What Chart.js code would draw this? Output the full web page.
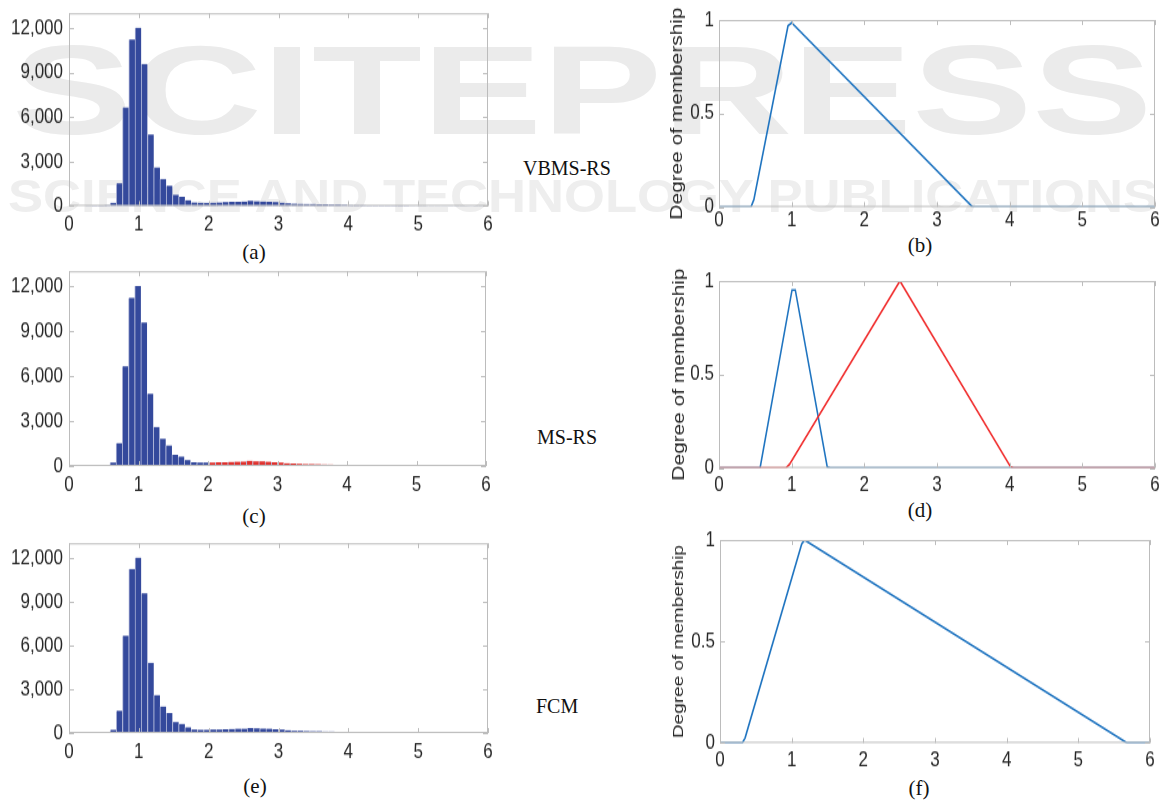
<!DOCTYPE html>
<html>
<head>
<meta charset="utf-8">
<script src="https://cdn.jsdelivr.net/npm/chart.js@4.4.1/dist/chart.umd.min.js"></script>
<style>
  html, body { margin: 0; padding: 0; background: #fff; }
  body { width: 1164px; height: 801px; position: relative; overflow: hidden; }
  .panel { position: absolute; transform-origin: 0 0; }
  .panel canvas { display: block; }
  .wm { position: absolute; white-space: nowrap; font-family: 'Liberation Sans', Arial, sans-serif; font-weight: bold; line-height: 1; transform-origin: 0 0; }
  #wm1 { font-size: 126px; color: #ebebeb; left: 12px; top: 28px; }
  #wm2 { font-size: 47px; color: #eeeeee; left: 8px; top: 172px; }
  .lbl { position: absolute; white-space: nowrap; font-family: 'Liberation Serif', 'Times New Roman', serif; font-size: 20px; line-height: 20px; color: #111; }
  .cap { position: absolute; white-space: nowrap; font-family: 'Liberation Serif', 'Times New Roman', serif; font-size: 21px; line-height: 1; color: #111; transform: translate(-50%, -50%); }
</style>
</head>
<body>
<div class="wm" id="wm1">SCITEPRESS</div>
<div class="wm" id="wm2">SCIENCE AND TECHNOLOGY PUBLICATIONS</div>

<div class="lbl" style="left:523px;top:158px;">VBMS-RS</div>
<div class="lbl" style="left:537px;top:427px;">MS-RS</div>
<div class="lbl" style="left:536px;top:696px;">FCM</div>

<div class="cap" style="left:254px;top:252px;">(a)</div>
<div class="cap" style="left:920px;top:245px;">(b)</div>
<div class="cap" style="left:254px;top:516px;">(c)</div>
<div class="cap" style="left:920px;top:510px;">(d)</div>
<div class="cap" style="left:255px;top:786px;">(e)</div>
<div class="cap" style="left:919px;top:788px;">(f)</div>

<script>
// ── Data ─────────────────────────────────────────────────────────────────────

// histogram bins (centres) and counts, same data in (a), (c) and (e)
const binCenters = [
  0.276, 0.365, 0.454, 0.544, 0.633, 0.722, 0.811, 0.901, 0.990, 1.079,
  1.169, 1.258, 1.347, 1.437, 1.526, 1.615, 1.704, 1.794, 1.883, 1.972,
  2.062, 2.151, 2.240, 2.330, 2.419, 2.508, 2.597, 2.687, 2.776, 2.865,
  2.955, 3.044, 3.133, 3.223, 3.312, 3.401, 3.490, 3.580, 3.669, 3.758,
  3.848, 3.937, 4.026, 4.116, 4.205, 4.294, 4.383, 4.473, 4.562, 4.651,
  4.741, 4.830, 4.919, 5.009, 5.098, 5.187, 5.276, 5.366, 5.455, 5.544,
  5.634, 5.723, 5.812, 5.902
];
const counts = [
  10, 25, 35, 60, 220, 1530, 6650, 11230, 12020, 9580,
  4820, 2600, 1820, 1370, 760, 630, 390, 240, 220, 220,
  230, 240, 260, 280, 290, 300, 350, 320, 310, 290,
  260, 230, 190, 160, 145, 135, 130, 120, 110, 100,
  90, 80, 60, 50, 45, 40, 38, 35, 32, 30,
  28, 25, 22, 20, 18, 16, 15, 14, 12, 11,
  10, 9, 8, 7
];
// bins assigned to the second cluster in (c)
const msClusterFrom = 20;
const msClusterTo = 42;

const xTicks = [0, 1, 2, 3, 4, 5, 6];
const countTicks = [0, 3000, 6000, 9000, 12000];
const memberTicks = [0, 0.5, 1];

// membership functions
const vbmsX = [0, 0.44, 0.48, 0.95, 1.0, 3.49, 6];
const vbmsY = [0, 0, 0.04, 0.97, 0.985, 0, 0];

const msLowX = [0, 0.565, 1.005, 1.05, 1.49, 1.53, 6];
const msLowY = [0, 0, 0.952, 0.952, 0.005, 0, 0];
const msHighX = [0, 0.92, 0.97, 2.49, 4.01, 4.05, 6];
const msHighY = [0, 0, 0.02, 1.0, 0.008, 0, 0];

const fcmX = [0, 0.31, 0.35, 1.14, 1.18, 5.67, 5.70, 6];
const fcmY = [0, 0, 0.025, 0.98, 1.0, 0.003, 0, 0];

// ── Styling ──────────────────────────────────────────────────────────────────

const STRETCH = 1.25;            // the figure is stretched vertically
const INK = '#262626';
const AXIS = '#bcbcbc';
const BAR_BLUE = '#34499c';
const BAR_RED = '#e0302c';
const BAR_EDGE = '#aab1d6';
const LINE_BLUE = '#1f74c0';
const LINE_RED = '#f02c2c';
const SANS = "'Liberation Sans', Arial, Helvetica, sans-serif";

const zip = (xs, ys) => xs.map((x, i) => ({ x, y: ys[i] }));

// box round the plot area with inward ticks on all four sides
const boxPlugin = {
  id: 'matlabBox',
  afterDatasetsDraw(chart) {
    const { ctx, chartArea: a, scales: { x, y } } = chart;
    ctx.save();
    ctx.strokeStyle = AXIS;
    ctx.lineWidth = 1;
    ctx.strokeRect(a.left + 0.5, a.top + 0.5, a.right - a.left - 1, a.bottom - a.top - 1);
    ctx.beginPath();
    x.ticks.forEach((t, i) => {
      const px = Math.round(x.getPixelForTick(i)) + 0.5;
      ctx.moveTo(px, a.bottom); ctx.lineTo(px, a.bottom - 4);
      ctx.moveTo(px, a.top);    ctx.lineTo(px, a.top + 4);
    });
    y.ticks.forEach((t, i) => {
      const py = Math.round(y.getPixelForTick(i)) + 0.5;
      ctx.moveTo(a.left, py);  ctx.lineTo(a.left + 5, py);
      ctx.moveTo(a.right, py); ctx.lineTo(a.right - 5, py);
    });
    ctx.stroke();
    ctx.restore();
  }
};

const noGrid = { display: false, drawTicks: false, offset: false };

function xScale(labelPad) {
  return {
    type: 'linear', min: 0, max: 6, offset: false,
    grid: noGrid, border: { display: false },
    afterBuildTicks: s => { s.ticks = xTicks.map(v => ({ value: v })); },
    ticks: { font: { family: SANS, size: 17 }, color: INK, padding: labelPad, autoSkip: false, maxRotation: 0, callback: v => String(v) }
  };
}

function countScale() {
  return {
    type: 'linear', min: 0, max: 13000,
    grid: noGrid, border: { display: false },
    afterBuildTicks: s => { s.ticks = countTicks.map(v => ({ value: v })); },
    ticks: { font: { family: SANS, size: 17 }, color: INK, padding: 6, callback: v => v.toLocaleString('en-US') }
  };
}

function memberScale(titlePad, titleSize) {
  return {
    type: 'linear', min: 0, max: 1,
    grid: noGrid, border: { display: false },
    afterBuildTicks: s => { s.ticks = memberTicks.map(v => ({ value: v })); },
    ticks: { font: { family: SANS, size: 17 }, color: INK, padding: 5, callback: v => String(v) },
    title: { display: true, text: 'Degree of membership', color: INK, font: { family: SANS, size: titleSize }, padding: { top: titlePad, bottom: 0 } }
  };
}

// place one chart so its plot area lands on box (page pixels)
function mountPanel(box, pad, config) {
  const wrap = document.createElement('div');
  wrap.className = 'panel';
  const innerH = box.h / STRETCH;
  const w = pad.left + box.w + pad.right;
  const h = Math.ceil(pad.top + innerH + pad.bottom);
  wrap.style.left = (box.x - pad.left) + 'px';
  wrap.style.top = (box.y - pad.top * STRETCH) + 'px';
  wrap.style.transform = `scaleY(${STRETCH})`;
  const cv = document.createElement('canvas');
  cv.width = w;
  cv.height = h;
  wrap.appendChild(cv);
  document.body.appendChild(wrap);

  const bottomH = h - pad.top - innerH;
  const o = config.options;
  o.responsive = false;
  o.animation = false;
  o.devicePixelRatio = 1;
  o.layout = { padding: { top: pad.top, right: pad.right, left: 0, bottom: 0 } };
  o.plugins = { legend: { display: false }, tooltip: { enabled: false } };
  o.scales.x.afterFit = s => { s.height = bottomH; };
  o.scales.y.afterFit = s => { s.width = pad.left; };
  config.plugins = [boxPlugin];
  return new Chart(cv, config);
}

function histogram(box, colors) {
  return mountPanel(box, { left: 69, right: 12, top: 16, bottom: 40 }, {
    type: 'bar',
    data: {
      datasets: [{
        data: zip(binCenters, counts),
        backgroundColor: colors,
        borderColor: BAR_EDGE,
        borderWidth: { left: 1, right: 0, top: 0, bottom: 0 },
        borderSkipped: false,
        barPercentage: 1,
        categoryPercentage: 1
      }]
    },
    options: { scales: { x: xScale(5), y: countScale() } }
  });
}

function lineSet(xs, ys, color, order) {
  return { data: zip(xs, ys), borderColor: color, borderWidth: 1.6, pointRadius: 0, tension: 0, fill: false, order };
}

function membership(box, datasets, labelPad, titlePad, titleSize) {
  return mountPanel(box, { left: box.x - 660, right: 12, top: 16, bottom: 40 }, {
    type: 'line',
    data: { datasets },
    options: { scales: { x: xScale(labelPad), y: memberScale(titlePad, titleSize) } }
  });
}

// ── Build ────────────────────────────────────────────────────────────────────

const blueBars = counts.map(() => BAR_BLUE);
const msBars = counts.map((_, i) => (i >= msClusterFrom && i <= msClusterTo) ? BAR_RED : BAR_BLUE);

histogram({ x: 69, y: 13, w: 419, h: 193 }, blueBars);
histogram({ x: 69, y: 271, w: 417, h: 195 }, msBars);
histogram({ x: 69, y: 543, w: 419, h: 190 }, blueBars);

membership({ x: 719, y: 20, w: 436, h: 187 }, [lineSet(vbmsX, vbmsY, LINE_BLUE, 1)], 1, 7, 16.7);
membership({ x: 719, y: 281, w: 436, h: 187 }, [
  lineSet(msHighX, msHighY, LINE_RED, 1),
  lineSet(msLowX, msLowY, LINE_BLUE, 2)
], 4, 9, 16.7);
membership({ x: 720, y: 540, w: 430, h: 203 }, [lineSet(fcmX, fcmY, LINE_BLUE, 1)], 4, 10, 15.2);

// stretch the watermark lines across the page
[['wm1', 1140], ['wm2', 1150]].forEach(([id, target]) => {
  const el = document.getElementById(id);
  el.style.transform = `scaleX(${target / el.offsetWidth})`;
});
</script>
</body>
</html>
